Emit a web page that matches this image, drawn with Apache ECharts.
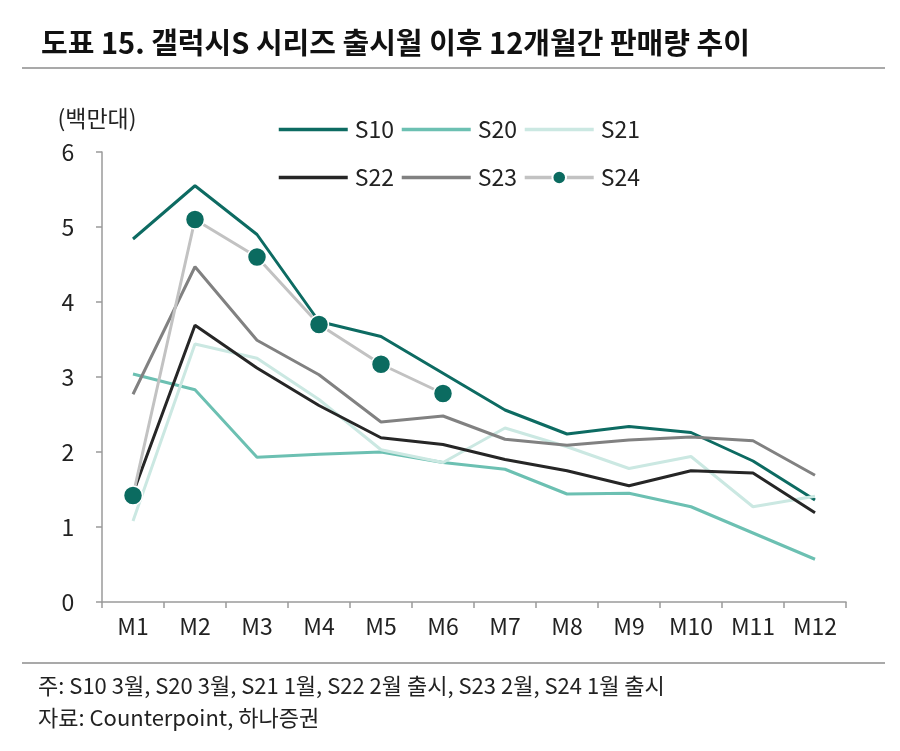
<!DOCTYPE html>
<html>
<head>
<meta charset="utf-8">
<script src="https://cdn.jsdelivr.net/npm/echarts@6/dist/echarts.min.js"></script>
<style>
  html, body { margin: 0; padding: 0; background: #fff; }
  #chart { width: 900px; height: 751px; }
</style>
</head>
<body>
<div id="chart"></div>
<script>
// 출시월 이후 개월
const months = ['M1', 'M2', 'M3', 'M4', 'M5', 'M6', 'M7', 'M8', 'M9', 'M10', 'M11', 'M12']

// 판매량 (백만대)
const s10 = [4.84, 5.55, 4.9, 3.74, 3.54, 3.05, 2.56, 2.24, 2.34, 2.26, 1.88, 1.36]
const s20 = [3.04, 2.83, 1.93, 1.97, 2.0, 1.86, 1.77, 1.44, 1.45, 1.27, 0.92, 0.57]
const s21 = [1.08, 3.44, 3.25, 2.7, 2.03, 1.86, 2.32, 2.07, 1.78, 1.94, 1.27, 1.41]
const s22 = [1.45, 3.69, 3.12, 2.62, 2.19, 2.1, 1.9, 1.75, 1.55, 1.75, 1.72, 1.19]
const s23 = [2.77, 4.47, 3.49, 3.03, 2.4, 2.48, 2.17, 2.09, 2.16, 2.2, 2.15, 1.69]
const s24 = [1.42, 5.1, 4.6, 3.7, 3.17, 2.78]

const FONT = '"Noto Sans CJK KR", "Noto Sans", sans-serif'

const chart = echarts.init(document.getElementById('chart'))

function lineSeries(name, data, color) {
  return {
    name: name,
    type: 'line',
    data: data,
    symbol: 'none',
    lineStyle: { color: color, width: 3 },
    itemStyle: { color: color },
    z: 2
  }
}

// 선만 보이는 범례 항목
function lineOnly(name) {
  return { name: name, itemStyle: { opacity: 0 } }
}

const legendBase = {
  left: 272,
  itemWidth: 69,
  itemHeight: 17,
  itemGap: 6,
  lineStyle: { width: 3.5 },
  textStyle: { fontFamily: FONT, fontSize: 23, color: '#222', width: 38, padding: [0, 0, 0, 2] }
}

const option = {
  animation: false,
  backgroundColor: '#fff',
  title: {
    text: '도표 15. 갤럭시S 시리즈 출시월 이후 12개월간 판매량 추이',
    left: 36,
    top: 23,
    textStyle: { fontFamily: FONT, fontSize: 29, fontWeight: 'bold', color: '#111' }
  },
  graphic: [
    { type: 'line', shape: { x1: 22, y1: 68, x2: 885, y2: 68 }, style: { stroke: '#8c8c8c', lineWidth: 1.5 } },
    { type: 'line', shape: { x1: 22, y1: 663, x2: 885, y2: 663 }, style: { stroke: '#8c8c8c', lineWidth: 1.5 } },
    { type: 'text', left: 38, top: 675, style: { text: '주: S10 3월, S20 3월, S21 1월, S22 2월 출시, S23 2월, S24 1월 출시', fontFamily: FONT, fontSize: 22, fill: '#222' } },
    { type: 'text', left: 38, top: 707, style: { text: '자료: Counterpoint, 하나증권', fontFamily: FONT, fontSize: 22, fill: '#222' } }
  ],
  legend: [
    Object.assign({}, legendBase, { top: 113, data: [lineOnly('S10'), lineOnly('S20'), lineOnly('S21')] }),
    Object.assign({}, legendBase, { top: 161, data: [lineOnly('S22'), lineOnly('S23'), 'S24'] })
  ],
  grid: { left: 102, right: 54, top: 152, bottom: 149 },
  xAxis: {
    type: 'category',
    data: months,
    boundaryGap: true,
    axisLine: { lineStyle: { color: '#9a9a9a', width: 1.5 } },
    axisTick: { show: true, length: 6, lineStyle: { color: '#9a9a9a', width: 1.5 } },
    axisLabel: { fontFamily: FONT, fontSize: 23, color: '#222', margin: 13 }
  },
  yAxis: {
    type: 'value',
    min: 0,
    max: 6,
    interval: 1,
    name: '(백만대)',
    nameLocation: 'end',
    nameGap: 22,
    nameTextStyle: { fontFamily: FONT, fontSize: 23, color: '#222', align: 'center', padding: [0, 0, 0, -10] },
    axisLine: { show: true, lineStyle: { color: '#9a9a9a', width: 1.5 } },
    axisTick: { show: true, length: 6, lineStyle: { color: '#9a9a9a', width: 1.5 } },
    axisLabel: { fontFamily: FONT, fontSize: 23, color: '#222', margin: 34, align: 'center' },
    splitLine: { show: false }
  },
  series: [
    lineSeries('S10', s10, '#0d6b62'),
    lineSeries('S20', s20, '#6cc0b2'),
    lineSeries('S21', s21, '#cbe8e2'),
    lineSeries('S22', s22, '#262626'),
    lineSeries('S23', s23, '#818181'),
    {
      name: 'S24',
      type: 'line',
      data: s24,
      symbol: 'circle',
      symbolSize: 19,
      lineStyle: { color: '#c2c2c2', width: 3 },
      itemStyle: { color: '#0b6b60', borderColor: '#fff', borderWidth: 1.5 },
      z: 3
    }
  ]
}

chart.setOption(option)
</script>
</body>
</html>
